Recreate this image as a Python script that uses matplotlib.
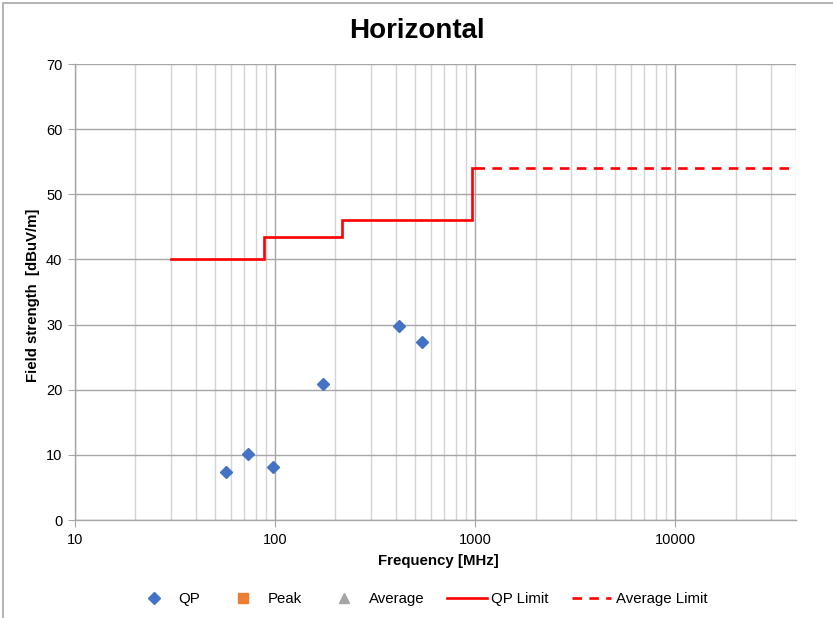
import matplotlib
matplotlib.use("Agg")
import matplotlib.pyplot as plt
from matplotlib.lines import Line2D
from matplotlib.patches import Rectangle
from matplotlib.ticker import LogLocator, FixedLocator, NullFormatter

plt.rcParams['font.family'] = ['Liberation Sans', 'DejaVu Sans']

# ---- data ----
qp_freq = [56.5, 73.3, 97.7, 172.5, 413.6, 543.0]
qp_level = [7.4, 10.2, 8.1, 20.9, 29.8, 27.4]
peak_freq = []
peak_level = []
avg_freq = []
avg_level = []
qp_limit_freq = [30, 88, 88, 216, 216, 960, 960, 1000]
qp_limit_level = [40, 40, 43.5, 43.5, 46, 46, 54, 54]
avg_limit_freq = [1000, 40000]
avg_limit_level = [54, 54]
x_ticks = [10, 100, 1000, 10000]
x_ticklabels = ["10", "100", "1000", "10000"]
y_ticks = [0, 10, 20, 30, 40, 50, 60, 70]

W, H = 833, 618
fig = plt.figure(figsize=(W / 100, H / 100), dpi=100)

# outer chart border
fig.patches.append(Rectangle((3 / W, -0.05), 1.2, (H - 3) / H + 0.05,
                             transform=fig.transFigure, fill=False,
                             edgecolor='#a6a6a6', linewidth=1.2))

ax = fig.add_axes([75 / W, (H - 520) / H, (796 - 75) / W, (520 - 64) / H])
ax.set_xscale('log')
ax.set_xlim(10, 40000)
ax.set_ylim(0, 70)

major_grid = '#a6a6a6'
minor_grid = '#d4d4d4'

ax.xaxis.set_major_locator(FixedLocator(x_ticks))
ax.set_xticklabels(x_ticklabels)
ax.xaxis.set_minor_locator(LogLocator(base=10, subs=range(2, 10), numticks=20))
ax.xaxis.set_minor_formatter(NullFormatter())
ax.set_yticks(y_ticks)

ax.grid(True, which='minor', axis='x', color=minor_grid, linewidth=1.0)
ax.grid(True, which='major', axis='x', color=major_grid, linewidth=1.0)
ax.grid(True, which='major', axis='y', color=major_grid, linewidth=1.0)
ax.set_axisbelow(True)

for s in ['top', 'right']:
    ax.spines[s].set_visible(False)
for s in ['left', 'bottom']:
    ax.spines[s].set_color(major_grid)
    ax.spines[s].set_linewidth(1.0)

ax.tick_params(axis='both', which='major', direction='out', length=5,
               color=major_grid, labelsize=10.5, labelcolor='#000000', pad=4)
ax.tick_params(axis='x', which='minor', length=0)

# data
ax.plot(qp_freq, qp_level, linestyle='none', marker='D', markersize=6,
        color='#4472C4', zorder=5)
ax.plot(peak_freq, peak_level, linestyle='none', marker='s', color='#ED7D31')
ax.plot(avg_freq, avg_level, linestyle='none', marker='^', color='#A5A5A5')
ax.plot(qp_limit_freq, qp_limit_level, color='#FF0000', linewidth=1.9,
        zorder=4, solid_joinstyle='miter')
ax.plot(avg_limit_freq, avg_limit_level, color='#FF0000', linewidth=1.9,
        dashes=(3.6, 2.8), zorder=4)

# labels
fig.text(0.5, 1 - 31 / H, 'Horizontal', ha='center', va='center',
         fontsize=20, fontweight='bold')
fig.text(438 / W, 1 - 561 / H, 'Frequency [MHz]', ha='center', va='center',
         fontsize=10.8, fontweight='bold')
fig.text(33 / W, 1 - 295 / H, 'Field strength  [dBuV/m]', ha='center',
         va='center', rotation=90, fontsize=10.8, fontweight='bold')

handles = [
    Line2D([], [], linestyle='none', marker='D', markersize=6, color='#4472C4'),
    Line2D([], [], linestyle='none', marker='s', markersize=6.5, color='#ED7D31'),
    Line2D([], [], linestyle='none', marker='^', markersize=7.5, color='#A5A5A5'),
    Line2D([], [], color='#FF0000', linewidth=1.9),
    Line2D([], [], color='#FF0000', linewidth=1.9, dashes=(3.6, 2.8)),
]
labels = ['QP', 'Peak', 'Average', 'QP Limit', 'Average Limit']
fig.legend(handles, labels, loc='center', bbox_to_anchor=(421 / W, 1 - 599 / H),
           ncol=5, frameon=False, fontsize=10.8, handlelength=2.63,
           handletextpad=0.31, columnspacing=1.53, borderaxespad=0,
           borderpad=0)

fig.savefig('out.png', dpi=100)
